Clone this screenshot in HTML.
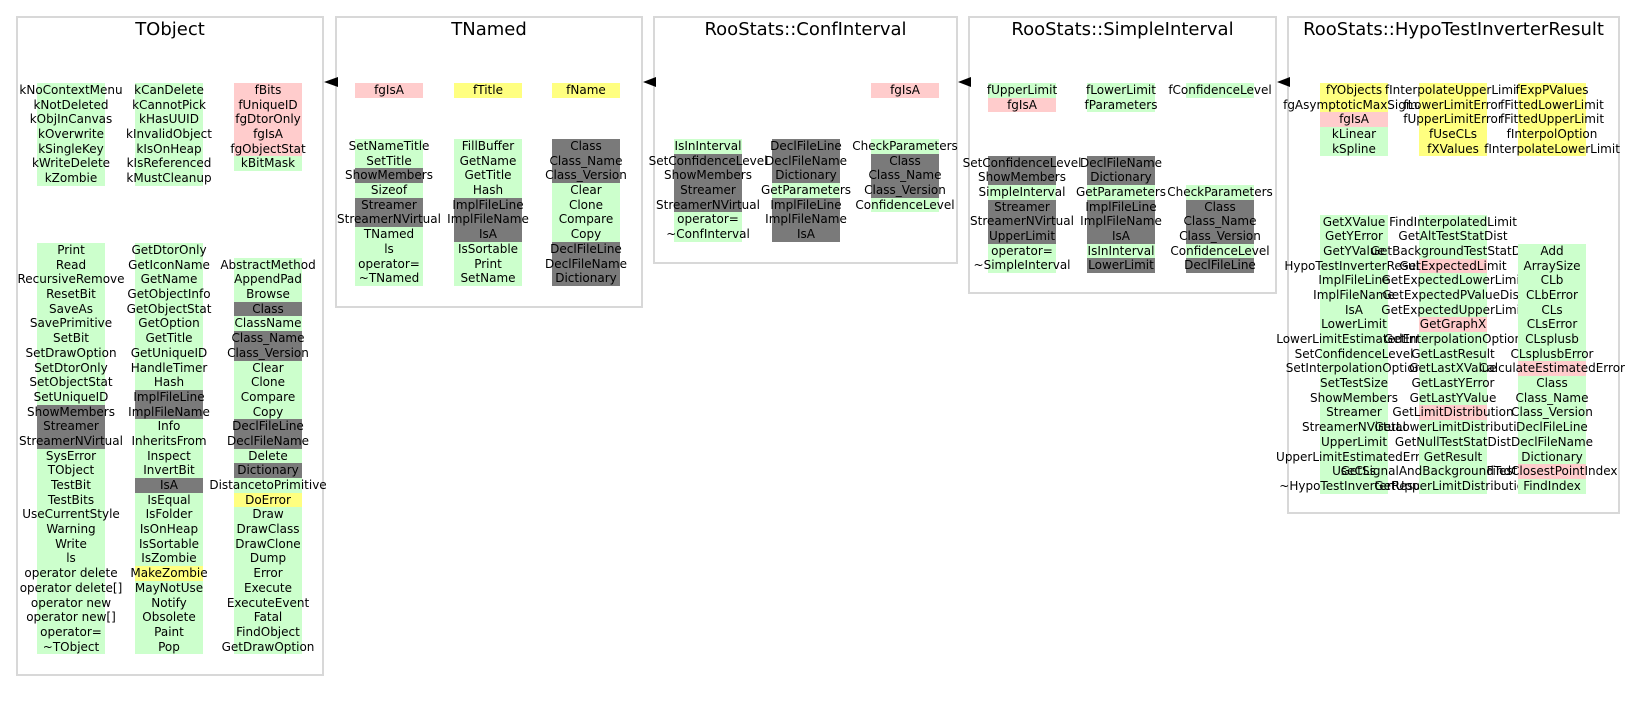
<!DOCTYPE html>
<html><head><meta charset="utf-8">
<style>
body{margin:0;width:1633px;height:703px;background:#fff;position:relative;overflow:hidden;font-family:"DejaVu Sans","Liberation Sans",sans-serif;}
.box{position:absolute;border:2px solid #d8d8d8;box-sizing:border-box;top:16px;}
.t{position:absolute;top:19px;font-size:18px;text-align:center;white-space:nowrap;}
.col{position:absolute;width:68px;font-size:12px;}
.col div{height:14.7px;line-height:14.7px;display:flex;justify-content:center;white-space:nowrap;}
.g{background:#ccffcc}.p{background:#ffcccc}.y{background:#ffff80}.k{background:#7a7a7a}
</style></head><body>
<div class="box" style="left:16px;width:308px;height:660px"></div>
<div class="box" style="left:335px;width:308px;height:292px"></div>
<div class="box" style="left:653px;width:305px;height:248px"></div>
<div class="box" style="left:968px;width:309px;height:278px"></div>
<div class="box" style="left:1287px;width:333px;height:498px"></div>
<div class="t" style="left:16px;width:308px">TObject</div>
<div class="t" style="left:335px;width:308px">TNamed</div>
<div class="t" style="left:653px;width:305px">RooStats::ConfInterval</div>
<div class="t" style="left:968px;width:309px">RooStats::SimpleInterval</div>
<div class="t" style="left:1287px;width:333px">RooStats::HypoTestInverterResult</div>
<svg style="position:absolute;left:0;top:0" width="1633" height="703">
<polygon points="324,82 338,77 338,87" fill="#000"/>
<polygon points="643,82 656,77 656,87" fill="#000"/>
<polygon points="958,82 971,77 971,87" fill="#000"/>
<polygon points="1277,82 1290,77 1290,87" fill="#000"/>
</svg>

<!-- TObject attrs -->
<div class="col" style="left:37px;top:83px"><div class="g">kNoContextMenu</div><div class="g">kNotDeleted</div><div class="g">kObjInCanvas</div><div class="g">kOverwrite</div><div class="g">kSingleKey</div><div class="g">kWriteDelete</div><div class="g">kZombie</div></div>
<div class="col" style="left:135px;top:83px"><div class="g">kCanDelete</div><div class="g">kCannotPick</div><div class="g">kHasUUID</div><div class="g">kInvalidObject</div><div class="g">kIsOnHeap</div><div class="g">kIsReferenced</div><div class="g">kMustCleanup</div></div>
<div class="col" style="left:234px;top:83px"><div class="p">fBits</div><div class="p">fUniqueID</div><div class="p">fgDtorOnly</div><div class="p">fgIsA</div><div class="p">fgObjectStat</div><div class="g">kBitMask</div></div>
<!-- TObject methods -->
<div class="col" style="left:37px;top:243px"><div class="g">Print</div><div class="g">Read</div><div class="g">RecursiveRemove</div><div class="g">ResetBit</div><div class="g">SaveAs</div><div class="g">SavePrimitive</div><div class="g">SetBit</div><div class="g">SetDrawOption</div><div class="g">SetDtorOnly</div><div class="g">SetObjectStat</div><div class="g">SetUniqueID</div><div class="k">ShowMembers</div><div class="k">Streamer</div><div class="k">StreamerNVirtual</div><div class="g">SysError</div><div class="g">TObject</div><div class="g">TestBit</div><div class="g">TestBits</div><div class="g">UseCurrentStyle</div><div class="g">Warning</div><div class="g">Write</div><div class="g">ls</div><div class="g">operator delete</div><div class="g">operator delete[]</div><div class="g">operator new</div><div class="g">operator new[]</div><div class="g">operator=</div><div class="g">~TObject</div></div>
<div class="col" style="left:135px;top:243px"><div class="g">GetDtorOnly</div><div class="g">GetIconName</div><div class="g">GetName</div><div class="g">GetObjectInfo</div><div class="g">GetObjectStat</div><div class="g">GetOption</div><div class="g">GetTitle</div><div class="g">GetUniqueID</div><div class="g">HandleTimer</div><div class="g">Hash</div><div class="k">ImplFileLine</div><div class="k">ImplFileName</div><div class="g">Info</div><div class="g">InheritsFrom</div><div class="g">Inspect</div><div class="g">InvertBit</div><div class="k">IsA</div><div class="g">IsEqual</div><div class="g">IsFolder</div><div class="g">IsOnHeap</div><div class="g">IsSortable</div><div class="g">IsZombie</div><div class="y">MakeZombie</div><div class="g">MayNotUse</div><div class="g">Notify</div><div class="g">Obsolete</div><div class="g">Paint</div><div class="g">Pop</div></div>
<div class="col" style="left:234px;top:257.7px"><div class="g">AbstractMethod</div><div class="g">AppendPad</div><div class="g">Browse</div><div class="k">Class</div><div class="g">ClassName</div><div class="k">Class_Name</div><div class="k">Class_Version</div><div class="g">Clear</div><div class="g">Clone</div><div class="g">Compare</div><div class="g">Copy</div><div class="k">DeclFileLine</div><div class="k">DeclFileName</div><div class="g">Delete</div><div class="k">Dictionary</div><div class="g">DistancetoPrimitive</div><div class="y">DoError</div><div class="g">Draw</div><div class="g">DrawClass</div><div class="g">DrawClone</div><div class="g">Dump</div><div class="g">Error</div><div class="g">Execute</div><div class="g">ExecuteEvent</div><div class="g">Fatal</div><div class="g">FindObject</div><div class="g">GetDrawOption</div></div>

<!-- TNamed -->
<div class="col" style="left:355px;top:83px"><div class="p">fgIsA</div></div>
<div class="col" style="left:454px;top:83px"><div class="y">fTitle</div></div>
<div class="col" style="left:552px;top:83px"><div class="y">fName</div></div>
<div class="col" style="left:355px;top:139px"><div class="g">SetNameTitle</div><div class="g">SetTitle</div><div class="k">ShowMembers</div><div class="g">Sizeof</div><div class="k">Streamer</div><div class="k">StreamerNVirtual</div><div class="g">TNamed</div><div class="g">ls</div><div class="g">operator=</div><div class="g">~TNamed</div></div>
<div class="col" style="left:454px;top:139px"><div class="g">FillBuffer</div><div class="g">GetName</div><div class="g">GetTitle</div><div class="g">Hash</div><div class="k">ImplFileLine</div><div class="k">ImplFileName</div><div class="k">IsA</div><div class="g">IsSortable</div><div class="g">Print</div><div class="g">SetName</div></div>
<div class="col" style="left:552px;top:139px"><div class="k">Class</div><div class="k">Class_Name</div><div class="k">Class_Version</div><div class="g">Clear</div><div class="g">Clone</div><div class="g">Compare</div><div class="g">Copy</div><div class="k">DeclFileLine</div><div class="k">DeclFileName</div><div class="k">Dictionary</div></div>

<!-- ConfInterval -->
<div class="col" style="left:871px;top:83px"><div class="p">fgIsA</div></div>
<div class="col" style="left:674px;top:139px"><div class="g">IsInInterval</div><div class="k">SetConfidenceLevel</div><div class="k">ShowMembers</div><div class="k">Streamer</div><div class="k">StreamerNVirtual</div><div class="g">operator=</div><div class="g">~ConfInterval</div></div>
<div class="col" style="left:772px;top:139px"><div class="k">DeclFileLine</div><div class="k">DeclFileName</div><div class="k">Dictionary</div><div class="g">GetParameters</div><div class="k">ImplFileLine</div><div class="k">ImplFileName</div><div class="k">IsA</div></div>
<div class="col" style="left:871px;top:139px"><div class="g">CheckParameters</div><div class="k">Class</div><div class="k">Class_Name</div><div class="k">Class_Version</div><div class="g">ConfidenceLevel</div></div>

<!-- SimpleInterval -->
<div class="col" style="left:988px;top:83px"><div class="g">fUpperLimit</div><div class="p">fgIsA</div></div>
<div class="col" style="left:1087px;top:83px"><div class="g">fLowerLimit</div><div class="g">fParameters</div></div>
<div class="col" style="left:1186px;top:83px"><div class="g">fConfidenceLevel</div></div>
<div class="col" style="left:988px;top:155.5px"><div class="k">SetConfidenceLevel</div><div class="k">ShowMembers</div><div class="g">SimpleInterval</div><div class="k">Streamer</div><div class="k">StreamerNVirtual</div><div class="k">UpperLimit</div><div class="g">operator=</div><div class="g">~SimpleInterval</div></div>
<div class="col" style="left:1087px;top:155.5px"><div class="k">DeclFileName</div><div class="k">Dictionary</div><div class="g">GetParameters</div><div class="k">ImplFileLine</div><div class="k">ImplFileName</div><div class="k">IsA</div><div class="g">IsInInterval</div><div class="k">LowerLimit</div></div>
<div class="col" style="left:1186px;top:184.9px"><div class="g">CheckParameters</div><div class="k">Class</div><div class="k">Class_Name</div><div class="k">Class_Version</div><div class="g">ConfidenceLevel</div><div class="k">DeclFileLine</div></div>

<!-- HypoTestInverterResult -->
<div class="col" style="left:1320px;top:83px"><div class="y">fYObjects</div><div class="y">fgAsymptoticMaxSigma</div><div class="p">fgIsA</div><div class="g">kLinear</div><div class="g">kSpline</div></div>
<div class="col" style="left:1419px;top:83px"><div class="y">fInterpolateUpperLimit</div><div class="y">fLowerLimitError</div><div class="y">fUpperLimitError</div><div class="y">fUseCLs</div><div class="y">fXValues</div></div>
<div class="col" style="left:1518px;top:83px"><div class="y">fExpPValues</div><div class="y">fFittedLowerLimit</div><div class="y">fFittedUpperLimit</div><div class="y">fInterpolOption</div><div class="y">fInterpolateLowerLimit</div></div>
<div class="col" style="left:1320px;top:214.5px"><div class="g">GetXValue</div><div class="g">GetYError</div><div class="g">GetYValue</div><div class="g">HypoTestInverterResult</div><div class="g">ImplFileLine</div><div class="g">ImplFileName</div><div class="g">IsA</div><div class="g">LowerLimit</div><div class="g">LowerLimitEstimatedError</div><div class="g">SetConfidenceLevel</div><div class="g">SetInterpolationOption</div><div class="g">SetTestSize</div><div class="g">ShowMembers</div><div class="g">Streamer</div><div class="g">StreamerNVirtual</div><div class="g">UpperLimit</div><div class="g">UpperLimitEstimatedError</div><div class="g">UseCLs</div><div class="g">~HypoTestInverterResult</div></div>
<div class="col" style="left:1419px;top:214.5px"><div class="g">FindInterpolatedLimit</div><div class="g">GetAltTestStatDist</div><div class="g">GetBackgroundTestStatDist</div><div class="p">GetExpectedLimit</div><div class="g">GetExpectedLowerLimit</div><div class="g">GetExpectedPValueDist</div><div class="g">GetExpectedUpperLimit</div><div class="p">GetGraphX</div><div class="g">GetInterpolationOption</div><div class="g">GetLastResult</div><div class="g">GetLastXValue</div><div class="g">GetLastYError</div><div class="g">GetLastYValue</div><div class="p">GetLimitDistribution</div><div class="g">GetLowerLimitDistribution</div><div class="g">GetNullTestStatDist</div><div class="g">GetResult</div><div class="g">GetSignalAndBackgroundTestStatDist</div><div class="g">GetUpperLimitDistribution</div></div>
<div class="col" style="left:1518px;top:243.9px"><div class="g">Add</div><div class="g">ArraySize</div><div class="g">CLb</div><div class="g">CLbError</div><div class="g">CLs</div><div class="g">CLsError</div><div class="g">CLsplusb</div><div class="g">CLsplusbError</div><div class="p">CalculateEstimatedError</div><div class="g">Class</div><div class="g">Class_Name</div><div class="g">Class_Version</div><div class="g">DeclFileLine</div><div class="g">DeclFileName</div><div class="g">Dictionary</div><div class="p">FindClosestPointIndex</div><div class="g">FindIndex</div></div>
</body></html>
